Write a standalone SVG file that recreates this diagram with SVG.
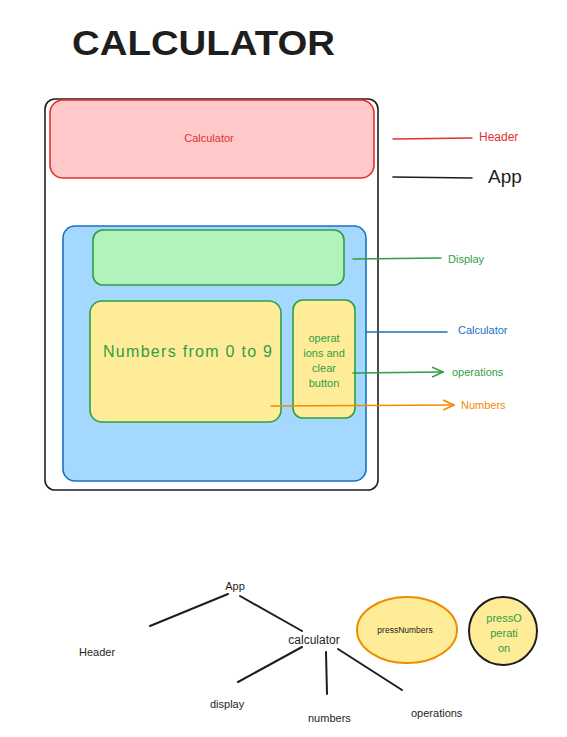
<svg xmlns="http://www.w3.org/2000/svg" width="567" height="737" viewBox="0 0 567 737">
<defs>
<style>
text{font-family:"Liberation Sans","DejaVu Sans",sans-serif;}
.ln{fill:none;stroke-width:1.6;stroke-linecap:round;}
.k{stroke:#1e1e1e;}
.tr{stroke:#1e1e1e;stroke-width:2;fill:none;stroke-linecap:round;}
.t{fill:#1e1e1e;}
.g{fill:#2f9e44;}
</style>
<marker id="ag" viewBox="0 0 12 12" refX="11" refY="6" markerWidth="12" markerHeight="12" markerUnits="userSpaceOnUse" orient="auto"><path d="M0,1 L11,6 L0,11" fill="none" stroke="#2f9e44" stroke-width="1.6"/></marker>
<marker id="ao" viewBox="0 0 12 12" refX="11" refY="6" markerWidth="12" markerHeight="12" markerUnits="userSpaceOnUse" orient="auto"><path d="M0,1 L11,6 L0,11" fill="none" stroke="#f08c00" stroke-width="1.6"/></marker>
</defs>
<rect width="567" height="737" fill="#ffffff"/>
<text x="72" y="55" font-size="35" font-weight="bold" class="t" textLength="263" lengthAdjust="spacingAndGlyphs">CALCULATOR</text>

<g id="app"><rect x="45" y="99" width="333" height="391" rx="10" fill="#ffffff" stroke="#1e1e1e" stroke-width="1.6"/></g>
<g id="header"><rect x="50" y="100" width="324" height="78" rx="13" fill="#ffc9c9" stroke="#e03131" stroke-width="1.6"/>
<text x="209" y="142" font-size="11" fill="#e03131" text-anchor="middle">Calculator</text></g>
<g id="calculator"><rect x="63" y="226" width="303" height="255" rx="12" fill="#a5d8ff" stroke="#1971c2" stroke-width="1.6"/></g>
<g id="display"><rect x="93" y="230" width="251" height="55" rx="10" fill="#b2f2bb" stroke="#2f9e44" stroke-width="1.6"/></g>
<g id="numbers"><rect x="90" y="301" width="191" height="121" rx="12" fill="#ffec99" stroke="#2f9e44" stroke-width="1.6"/>
<text x="103" y="357" font-size="16" class="g" textLength="169" lengthAdjust="spacing">Numbers from 0 to 9</text></g>
<g id="operations"><rect x="293" y="300" width="62" height="118" rx="10" fill="#ffec99" stroke="#2f9e44" stroke-width="1.6"/>
<text font-size="11" class="g" text-anchor="middle"><tspan x="324" y="342">operat</tspan><tspan x="324" y="357">ions and</tspan><tspan x="324" y="372">clear</tspan><tspan x="324" y="387">button</tspan></text></g>

<g id="connectors">
<line x1="393" y1="139" x2="472" y2="138" class="ln" stroke="#e03131"/>
<line x1="393" y1="177" x2="472" y2="178" class="ln k"/>
<line x1="353" y1="259" x2="441" y2="258" class="ln" stroke="#2f9e44"/>
<line x1="366" y1="332" x2="447" y2="332" class="ln" stroke="#1971c2"/>
<line x1="353" y1="373" x2="443" y2="372" class="ln" stroke="#2f9e44" marker-end="url(#ag)"/>
<line x1="271" y1="406" x2="454" y2="405" class="ln" stroke="#f08c00" marker-end="url(#ao)"/>
<line x1="228" y1="594" x2="150" y2="626" class="tr"/>
<line x1="240" y1="596" x2="302" y2="631" class="tr"/>
<line x1="302" y1="647" x2="238" y2="682" class="tr"/>
<line x1="326" y1="652" x2="327" y2="694" class="tr"/>
<line x1="338" y1="649" x2="402" y2="690" class="tr"/>
</g>

<g id="labels">
<text x="479" y="141" font-size="12" fill="#e03131">Header</text>
<text x="488" y="183" font-size="19" class="t">App</text>
<text x="448" y="263" font-size="11" class="g">Display</text>
<text x="458" y="334" font-size="11" fill="#1971c2">Calculator</text>
<text x="452" y="376" font-size="11" class="g">operations</text>
<text x="461" y="409" font-size="11" fill="#f08c00">Numbers</text>
</g>

<g id="tree-app"><text x="235" y="590" font-size="11" class="t" text-anchor="middle">App</text></g>
<g id="tree-header"><text x="79" y="656" font-size="11" class="t">Header</text></g>
<g id="tree-calculator"><text x="314" y="644" font-size="12" class="t" text-anchor="middle">calculator</text></g>
<g id="tree-display"><text x="210" y="708" font-size="11" class="t">display</text></g>
<g id="tree-numbers"><text x="308" y="722" font-size="11" class="t">numbers</text></g>
<g id="tree-operations"><text x="411" y="717" font-size="11" class="t">operations</text></g>
<g id="pressNumbers"><ellipse cx="407" cy="630" rx="50" ry="33" fill="#ffec99" stroke="#f08c00" stroke-width="2"/>
<text x="405" y="633" font-size="8.5" class="t" text-anchor="middle">pressNumbers</text></g>
<g id="pressOperation"><circle cx="503" cy="631" r="34" fill="#ffec99" stroke="#1e1e1e" stroke-width="2"/>
<text font-size="11" class="g" text-anchor="middle"><tspan x="504" y="622">pressO</tspan><tspan x="504" y="637">perati</tspan><tspan x="504" y="652">on</tspan></text></g>
</svg>
